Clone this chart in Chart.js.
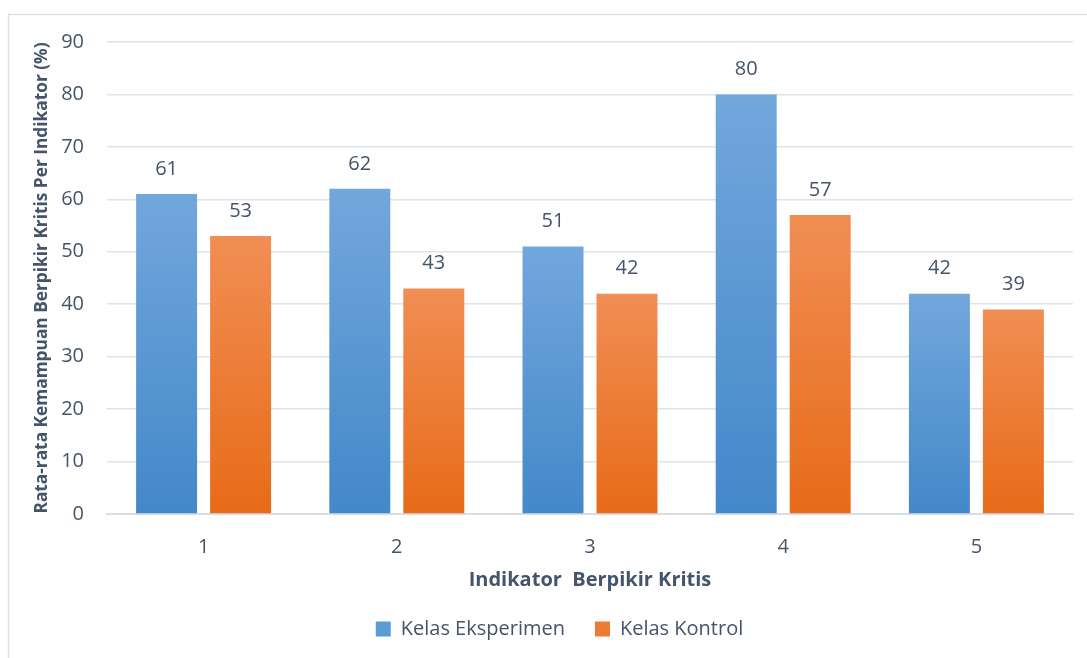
<!DOCTYPE html>
<html>
<head>
<meta charset="utf-8">
<script src="https://cdn.jsdelivr.net/npm/chart.js@4.4.1/dist/chart.umd.min.js"></script>
<style>
  html, body { margin: 0; padding: 0; background: #ffffff; }
  #wrap { width: 1087px; height: 658px; }
</style>
</head>
<body>
<div id="wrap"><canvas id="c" width="1087" height="658"></canvas></div>
<script>
const categories = ['1', '2', '3', '4', '5'];
const eksperimen = [61, 62, 51, 80, 42];
const kontrol = [53, 43, 42, 57, 39];
const yTicks = [0, 10, 20, 30, 40, 50, 60, 70, 80, 90];

const TEXT = '#44546a';
const FONT = "'Open Sans', 'Noto Sans', sans-serif";

// vertical gradient per bar: lighter at the top, deeper at the base
function barGradient(top, bottom) {
  return function (ctx) {
    const chart = ctx.chart;
    const ys = chart.scales && chart.scales.y;
    if (!chart.chartArea || !ys || ctx.parsed == null) return bottom;
    const yTop = ys.getPixelForValue(ctx.parsed.y);
    const yBase = ys.getPixelForValue(0);
    const g = chart.ctx.createLinearGradient(0, yTop, 0, yBase);
    g.addColorStop(0, top);
    g.addColorStop(1, bottom);
    return g;
  };
}

// light frame around the figure
const framePlugin = {
  id: 'frame',
  beforeDraw(chart) {
    const c = chart.ctx;
    c.save();
    c.strokeStyle = '#dde2e8';
    c.lineWidth = 1.5;
    c.strokeRect(8.5, 14.5, 1200, 700);
    c.restore();
  }
};

// center the legend under the plot area rather than the whole canvas
const legendShift = {
  id: 'legendShift',
  afterLayout(chart) {
    const lg = chart.legend;
    if (!lg) return;
    lg.left += 23;
    lg.right += 23;
    if (lg.adjustHitBoxes) lg.adjustHitBoxes();
  }
};

// value labels above each bar
const valueLabels = {
  id: 'valueLabels',
  afterDatasetsDraw(chart) {
    const c = chart.ctx;
    c.save();
    c.font = '20px ' + FONT;
    c.fillStyle = TEXT;
    c.textAlign = 'center';
    c.textBaseline = 'middle';
    chart.data.datasets.forEach((ds, i) => {
      chart.getDatasetMeta(i).data.forEach((bar, j) => {
        c.fillText(String(ds.data[j]), bar.x, bar.y - 25);
      });
    });
    c.restore();
  }
};

new Chart(document.getElementById('c'), {
  type: 'bar',
  data: {
    labels: categories,
    datasets: [
      { label: 'Kelas Eksperimen', data: eksperimen,
        backgroundColor: barGradient('#72a7dc', '#4388c9') },
      { label: 'Kelas Kontrol', data: kontrol,
        backgroundColor: barGradient('#f18e54', '#e76b18') }
    ]
  },
  options: {
    responsive: false,
    animation: false,
    layout: { padding: { top: 42, right: 14, bottom: 9, left: 0 } },
    datasets: { bar: { categoryPercentage: 0.766, barPercentage: 0.824 } },
    plugins: {
      legend: {
        position: 'bottom',
        labels: {
          font: { family: FONT, size: 20 },
          color: TEXT,
          boxWidth: 15, boxHeight: 15,
          padding: 30,
          generateLabels(chart) {
            const fills = ['#5a9bd6', '#ef7b33'];
            return chart.data.datasets.map((ds, i) => ({
              text: ds.label, fillStyle: fills[i], strokeStyle: fills[i],
              lineWidth: 0, datasetIndex: i, fontColor: TEXT
            }));
          }
        }
      },
      tooltip: { enabled: false }
    },
    scales: {
      x: {
        grid: { display: false, drawTicks: false },
        border: { display: true, color: '#d9dee5', width: 2 },
        ticks: { color: TEXT, font: { family: FONT, size: 20 }, padding: 21 },
        title: {
          display: true, text: 'Indikator  Berpikir Kritis', color: TEXT,
          font: { family: FONT, size: 20, weight: 'bold' },
          padding: { top: 0, bottom: -3 }
        },
        afterFit(s) { s.height = 75; }
      },
      y: {
        min: 0, max: 90,
        afterBuildTicks(s) { s.ticks = yTicks.map(v => ({ value: v })); },
        grid: { color: '#dfe3e9', lineWidth: 1.5, drawTicks: false },
        border: { display: false },
        ticks: { color: TEXT, font: { family: FONT, size: 20 }, padding: 23 },
        title: {
          display: true, text: 'Rata-rata Kemampuan Berpikir Kritis Per Indikator (%)', color: TEXT,
          font: { family: FONT, size: 17.3, weight: 'bold' },
          padding: { top: 31.5, bottom: 0 }
        },
        afterFit(s) { s.width = 107; }
      }
    }
  },
  plugins: [framePlugin, legendShift, valueLabels]
});
</script>
</body>
</html>
